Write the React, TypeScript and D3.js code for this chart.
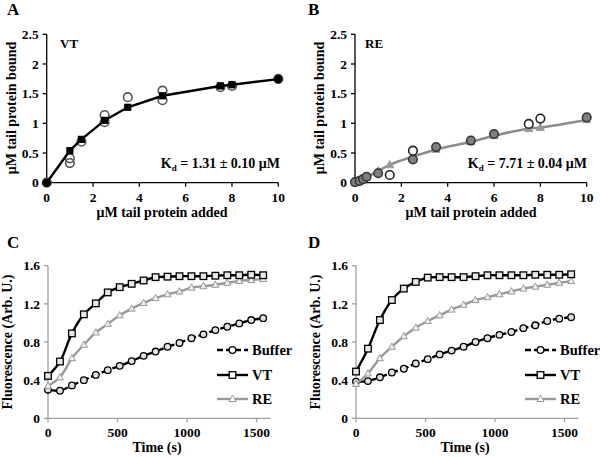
import React from 'react';
import * as d3 from 'd3';

const FONT = '"Liberation Serif", "Times New Roman", Times, serif';

// ---------- Panel A (VT binding) ----------
const aFitX = [0, 1, 1.5, 2.5, 3.5, 5, 7.5, 8, 10];
const aFitY = [0, 0.54, 0.73, 1.05, 1.27, 1.465, 1.63, 1.65, 1.745];
const aSquareIdx = [1, 2, 3, 4, 5, 6, 7];
const aDotIdx = [0, 8];
const aOpenX = [0, 1, 1, 1.5, 2.5, 2.5, 3.5, 5, 5, 7.5, 8, 10];
const aOpenY = [0, 0.41, 0.33, 0.69, 1.14, 1.02, 1.44, 1.55, 1.39, 1.61, 1.63, 1.75];

// ---------- Panel B (RE binding) ----------
const bTriX = [0, 0.5, 1, 1.5, 2.5, 3.5, 5, 6, 7.5, 8, 10];
const bTriY = [0, 0.09, 0.2, 0.3, 0.44, 0.56, 0.69, 0.79, 0.91, 0.93, 1.06];
const bFillX = [0, 0.2, 0.35, 0.5, 1, 2.5, 3.5, 5, 6, 10];
const bFillY = [0.01, 0.03, 0.06, 0.1, 0.16, 0.39, 0.6, 0.71, 0.82, 1.1];
const bOpenX = [1.5, 2.5, 7.5, 8];
const bOpenY = [0.13, 0.54, 0.99, 1.08];

const bindXTicks = [0, 2, 4, 6, 8, 10];
const bindYTicks = [0, 0.5, 1, 1.5, 2, 2.5];

// ---------- Panels C & D (fluorescence kinetics) ----------
const timeStep = 86;
const timePoints = d3.range(19).map((i) => i * timeStep);
const cBuffer = [0.3, 0.29, 0.345, 0.4, 0.455, 0.505, 0.55, 0.6, 0.655, 0.7, 0.75, 0.79, 0.84, 0.88, 0.925, 0.96, 0.995, 1.03, 1.05];
const cVT = [0.445, 0.595, 0.89, 1.09, 1.205, 1.32, 1.375, 1.41, 1.445, 1.48, 1.485, 1.49, 1.49, 1.49, 1.495, 1.5, 1.5, 1.505, 1.5];
const cRE = [0.34, 0.43, 0.63, 0.77, 0.9, 0.99, 1.08, 1.15, 1.21, 1.26, 1.3, 1.33, 1.37, 1.385, 1.4, 1.42, 1.44, 1.45, 1.46];
const dBuffer = [0.385, 0.39, 0.43, 0.48, 0.52, 0.575, 0.62, 0.67, 0.71, 0.75, 0.8, 0.84, 0.875, 0.905, 0.945, 0.975, 1.02, 1.045, 1.06];
const dVT = [0.49, 0.73, 1.03, 1.24, 1.36, 1.43, 1.475, 1.48, 1.48, 1.48, 1.49, 1.5, 1.5, 1.5, 1.5, 1.505, 1.505, 1.505, 1.51];
const dRE = [0.36, 0.47, 0.63, 0.75, 0.86, 0.95, 1.02, 1.08, 1.14, 1.19, 1.24, 1.27, 1.3, 1.33, 1.36, 1.38, 1.4, 1.42, 1.44];

const kinXTicks = [0, 500, 1000, 1500];
const kinYTicks = [0, 0.4, 0.8, 1.2, 1.6];
const legendLabels = ['Buffer', 'VT', 'RE'];

type Scale = d3.ScaleLinear<number, number>;

function Axes({ x, y, xTicks, yTicks, color, yFmt }: { x: Scale; y: Scale; xTicks: number[]; yTicks: number[]; color: string; yFmt: (v: number) => string }) {
  const [x0, x1] = x.range();
  const [y0, y1] = y.range();
  return (
    <g fontFamily={FONT} fontWeight="bold" fontSize={13.5} fill="#000">
      <line x1={x0} x2={x1} y1={y0} y2={y0} stroke={color} strokeWidth={1.3} />
      <line x1={x0} x2={x0} y1={y0} y2={y1} stroke={color} strokeWidth={1.3} />
      {xTicks.map((t) => (
        <g key={'x' + t}>
          <line x1={x(t)} x2={x(t)} y1={y0} y2={y0 + 4} stroke={color} strokeWidth={1.3} />
          <text x={x(t)} y={y0 + 19} textAnchor="middle">{t}</text>
        </g>
      ))}
      {yTicks.map((t) => (
        <g key={'y' + t}>
          <line x1={x0 - 4} x2={x0} y1={y(t)} y2={y(t)} stroke={color} strokeWidth={1.3} />
          <text x={x0 - 8} y={y(t)} dy="0.35em" textAnchor="end">{yFmt(t)}</text>
        </g>
      ))}
    </g>
  );
}

function Tri({ cx, cy, s, fill, stroke, sw }: { cx: number; cy: number; s: number; fill: string; stroke: string; sw: number }) {
  const h = s * 0.9;
  return <path d={`M${cx},${cy - h * 0.6}L${cx + s / 2},${cy + h * 0.4}L${cx - s / 2},${cy + h * 0.4}Z`} fill={fill} stroke={stroke} strokeWidth={sw} />;
}

function PanelA() {
  const x = d3.scaleLinear().domain([0, 10]).range([46.7, 278.3]);
  const y = d3.scaleLinear().domain([0, 2.5]).range([182.7, 34.3]);
  const line = d3.line<number>().x((_, i) => x(aFitX[i])).y((d) => y(d));
  return (
    <g>
      <Axes x={x} y={y} xTicks={bindXTicks} yTicks={bindYTicks} color="#000" yFmt={(v) => String(v)} />
      {aOpenX.map((v, i) => (
        <circle key={i} cx={x(v)} cy={y(aOpenY[i])} r={4.3} fill="none" stroke="#555" strokeWidth={1.6} />
      ))}
      <path d={line(aFitY) || ''} fill="none" stroke="#000" strokeWidth={2.4} />
      {aSquareIdx.map((i) => (
        <rect key={i} x={x(aFitX[i]) - 3.6} y={y(aFitY[i]) - 3.6} width={7.2} height={7.2} fill="#000" />
      ))}
      {aDotIdx.map((i) => (
        <circle key={i} cx={x(aFitX[i])} cy={y(aFitY[i])} r={4.3} fill="#000" />
      ))}
    </g>
  );
}

function PanelB() {
  const x = d3.scaleLinear().domain([0, 10]).range([355, 586.7]);
  const y = d3.scaleLinear().domain([0, 2.5]).range([182.7, 34.3]);
  const line = d3.line<number>().x((_, i) => x(bTriX[i])).y((d) => y(d)).curve(d3.curveMonotoneX);
  return (
    <g>
      <Axes x={x} y={y} xTicks={bindXTicks} yTicks={bindYTicks} color="#000" yFmt={(v) => String(v)} />
      <path d={line(bTriY) || ''} fill="none" stroke="#8c8c8c" strokeWidth={2.6} />
      {bTriX.map((v, i) => (
        <Tri key={i} cx={x(v)} cy={y(bTriY[i])} s={8} fill="#9a9a9a" stroke="#9a9a9a" sw={1} />
      ))}
      {bFillX.map((v, i) => (
        <circle key={i} cx={x(v)} cy={y(bFillY[i])} r={4.3} fill="#7f7f7f" stroke="#333" strokeWidth={1.5} />
      ))}
      {bOpenX.map((v, i) => (
        <circle key={i} cx={x(v)} cy={y(bOpenY[i])} r={4.3} fill="#fff" stroke="#222" strokeWidth={1.6} />
      ))}
    </g>
  );
}

function Kinetics({ ox, buffer, vt, re }: { ox: number; buffer: number[]; vt: number[]; re: number[] }) {
  const x = d3.scaleLinear().domain([0, 1600]).range([ox, ox + 69.5 * 3.2]);
  const y = d3.scaleLinear().domain([0, 1.6]).range([418.3, 265.7]);
  const line = d3.line<number>().x((_, i) => x(timePoints[i])).y((d) => y(d)).curve(d3.curveCatmullRom);
  const lx0 = ox + 169;
  const lx1 = ox + 200;
  const ly = [350, 375, 399];
  const lm = (lx0 + lx1) / 2;
  return (
    <g>
      <Axes x={x} y={y} xTicks={kinXTicks} yTicks={kinYTicks} color="#a0a0a0" yFmt={(v) => String(v === 0 ? 0 : v.toFixed(1))} />
      <path d={line(buffer) || ''} fill="none" stroke="#000" strokeWidth={2.4} strokeDasharray="9,2.5" />
      {buffer.map((v, i) => (
        <circle key={'b' + i} cx={x(timePoints[i])} cy={y(v)} r={3.3} fill="#e0e0e0" stroke="#000" strokeWidth={1.3} />
      ))}
      <path d={line(re) || ''} fill="none" stroke="#999" strokeWidth={2.4} />
      {re.map((v, i) => (
        <Tri key={'r' + i} cx={x(timePoints[i])} cy={y(v)} s={7} fill="#eee" stroke="#999" sw={1} />
      ))}
      <path d={line(vt) || ''} fill="none" stroke="#000" strokeWidth={2.4} />
      {vt.map((v, i) => (
        <rect key={'v' + i} x={x(timePoints[i]) - 3.3} y={y(v) - 3.3} width={6.6} height={6.6} fill="#e8e8e8" stroke="#000" strokeWidth={1.3} />
      ))}
      {/* legend */}
      <line x1={lx0} x2={lx1} y1={ly[0]} y2={ly[0]} stroke="#000" strokeWidth={2.4} strokeDasharray="6,3" />
      <circle cx={lm} cy={ly[0]} r={3.3} fill="#fff" stroke="#000" strokeWidth={1.3} />
      <line x1={lx0} x2={lx1} y1={ly[1]} y2={ly[1]} stroke="#000" strokeWidth={2.4} />
      <rect x={lm - 3.3} y={ly[1] - 3.3} width={6.6} height={6.6} fill="#fff" stroke="#000" strokeWidth={1.3} />
      <line x1={lx0} x2={lx1} y1={ly[2]} y2={ly[2]} stroke="#999" strokeWidth={2.4} />
      <Tri cx={lm} cy={ly[2]} s={7} fill="#fff" stroke="#999" sw={1} />
      {legendLabels.map((l, i) => (
        <text key={l} x={lx1 + 4} y={ly[i]} dy="0.35em" fontFamily={FONT} fontWeight="bold" fontSize={14.5}>{l}</text>
      ))}
      <text x={ox + 109} y={452} textAnchor="middle" fontFamily={FONT} fontWeight="bold" fontSize={14}>Time (s)</text>
      <text transform={`translate(${ox - 36},342) rotate(-90)`} textAnchor="middle" fontFamily={FONT} fontWeight="bold" fontSize={14}>Fluorescence (Arb. U.)</text>
    </g>
  );
}

export default function App() {
  const t = { fontFamily: FONT, fontWeight: 'bold' as const };
  return (
    <svg width={600} height={457} style={{ position: 'absolute', left: 0, top: 0, background: '#fff' }}>
      <rect width={600} height={457} fill="#fff" />
      <PanelA />
      <PanelB />
      <Kinetics ox={48} buffer={cBuffer} vt={cVT} re={cRE} />
      <Kinetics ox={356} buffer={dBuffer} vt={dVT} re={dRE} />
      {/* panel letters */}
      <text x={7} y={15} {...t} fontSize={17}>A</text>
      <text x={308} y={15} {...t} fontSize={17}>B</text>
      <text x={7} y={248} {...t} fontSize={17}>C</text>
      <text x={308} y={248} {...t} fontSize={17}>D</text>
      {/* binding panel text */}
      <text x={60} y={48} {...t} fontSize={13}>VT</text>
      <text x={365} y={48} {...t} fontSize={13}>RE</text>
      <text x={280} y={168} textAnchor="end" {...t} fontSize={14}>K<tspan fontSize={9} dy={3}>d</tspan><tspan dy={-3}> = 1.31 ± 0.10 μM</tspan></text>
      <text x={587} y={168} textAnchor="end" {...t} fontSize={14}>K<tspan fontSize={9} dy={3}>d</tspan><tspan dy={-3}> = 7.71 ± 0.04 μM</tspan></text>
      <text x={162} y={217} textAnchor="middle" {...t} fontSize={14}>μM tail protein added</text>
      <text x={471} y={217} textAnchor="middle" {...t} fontSize={14}>μM tail protein added</text>
      <text transform="translate(16,108) rotate(-90)" textAnchor="middle" {...t} fontSize={14}>μM tail protein bound</text>
      <text transform="translate(324,108) rotate(-90)" textAnchor="middle" {...t} fontSize={14}>μM tail protein bound</text>
    </svg>
  );
}
